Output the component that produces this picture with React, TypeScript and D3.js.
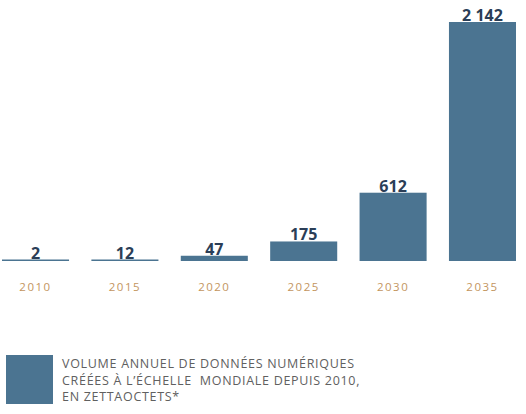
import React, { useEffect, useRef } from "react";
import * as d3 from "d3";

const years = ["2010", "2015", "2020", "2025", "2030", "2035"];
const volumes = [2, 12, 47, 175, 612, 2142];
const valueLabels = ["2", "12", "47", "175", "612", "2 142"];
const legendLines = [
  "VOLUME ANNUEL DE DONNÉES NUMÉRIQUES",
  "CRÉÉES À L’ÉCHELLE  MONDIALE DEPUIS 2010,",
  "EN ZETTAOCTETS*",
];

const width = 526;
const height = 414;
const barColor = "#4b7491";

export default function App() {
  const ref = useRef<SVGSVGElement | null>(null);

  useEffect(() => {
    const svg = d3.select(ref.current);
    svg.selectAll("*").remove();

    const baseline = 261;
    const x = d3.scaleBand<string>()
      .domain(years)
      .range([2, 516])
      .paddingInner(0.25)
      .paddingOuter(0);

    const y = d3.scaleLinear()
      .domain([0, 2142])
      .range([baseline, 22]);

    const data = years.map((yr, i) => ({ yr, v: volumes[i], label: valueLabels[i] }));

    // bars
    svg.append("g")
      .selectAll("rect")
      .data(data)
      .join("rect")
      .attr("x", d => x(d.yr)!)
      .attr("width", x.bandwidth())
      .attr("y", d => Math.min(y(d.v), baseline - 1.5))
      .attr("height", d => Math.max(baseline - y(d.v), 1.5))
      .attr("fill", barColor);

    // value labels
    svg.append("g")
      .selectAll("text")
      .data(data)
      .join("text")
      .attr("x", d => x(d.yr)! + x.bandwidth() / 2)
      .attr("y", d => Math.min(y(d.v), baseline - 1.5) - 1)
      .attr("text-anchor", "middle")
      .attr("font-family", "'Open Sans', sans-serif")
      .attr("font-weight", "bold")
      .attr("font-size", "16px")
      .attr("fill", "#2b3e57")
      .text(d => d.label);

    // year labels
    svg.append("g")
      .selectAll("text")
      .data(years)
      .join("text")
      .attr("x", d => x(d)! + x.bandwidth() / 2)
      .attr("y", 291)
      .attr("text-anchor", "middle")
      .attr("font-family", "'Open Sans', sans-serif")
      .attr("font-size", "11.5px")
      .attr("letter-spacing", "1.5px")
      .attr("fill", "#c39560")
      .text(d => d);

    // legend
    svg.append("rect")
      .attr("x", 6)
      .attr("y", 355)
      .attr("width", 47)
      .attr("height", 49)
      .attr("fill", barColor);

    svg.append("g")
      .selectAll("text")
      .data(legendLines)
      .join("text")
      .attr("x", 62)
      .attr("y", (d, i) => 368 + i * 16.5)
      .attr("font-family", "'Open Sans', sans-serif")
      .attr("font-size", "12.5px")
      .attr("letter-spacing", "0.7px")
      .attr("fill", "#606060")
      .style("white-space", "pre")
      .text(d => d);
  }, []);

  return (
    <svg
      ref={ref}
      width={width}
      height={height}
      style={{ position: "absolute", left: 0, top: 0, background: "#fff" }}
    />
  );
}
